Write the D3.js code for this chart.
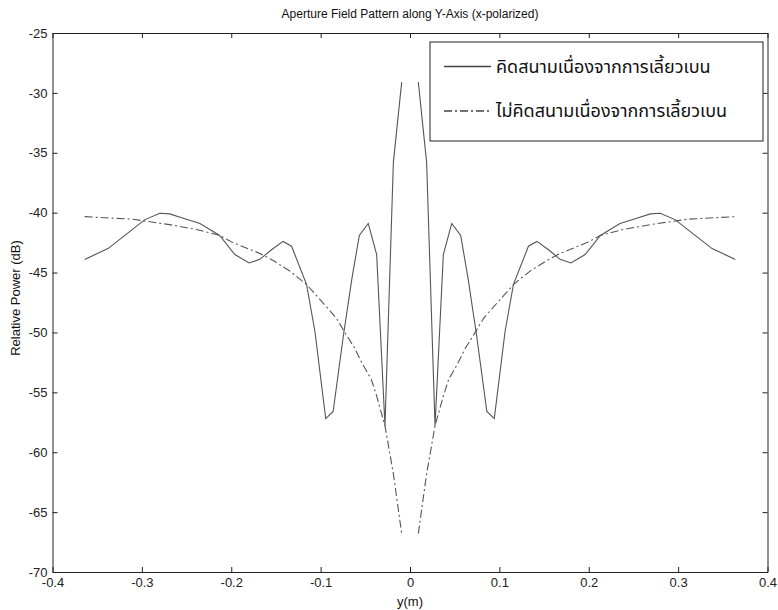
<!DOCTYPE html>
<html>
<head>
<meta charset="utf-8">
<script src="https://cdn.jsdelivr.net/npm/d3@7"></script>
<style>
  html, body { margin: 0; padding: 0; background: #fff; }
  svg { display: block; }
</style>
</head>
<body>
<svg id="chart" width="778" height="610"></svg>
<script>
// ---- data ----
const xTickValues = [-0.4, -0.3, -0.2, -0.1, 0, 0.1, 0.2, 0.3, 0.4];
const xTickLabels = ["-0.4", "-0.3", "-0.2", "-0.1", "0", "0.1", "0.2", "0.3", "0.4"];
const yTickValues = [-70, -65, -60, -55, -50, -45, -40, -35, -30, -25];
const yTickLabels = ["-70", "-65", "-60", "-55", "-50", "-45", "-40", "-35", "-30", "-25"];

// with diffraction (solid)
const xSolid = [-0.364, -0.338, -0.314, -0.297, -0.280, -0.269, -0.252, -0.235, -0.213, -0.196, -0.180, -0.168, -0.155, -0.142, -0.1325, -0.1157, -0.1064, -0.0943, -0.086, -0.0746, -0.065, -0.0567, -0.0467, -0.0373, -0.028, -0.0186, -0.0093, 0,
                0.0093, 0.0186, 0.028, 0.0373, 0.0467, 0.0567, 0.065, 0.0746, 0.086, 0.0943, 0.1064, 0.1157, 0.1325, 0.142, 0.155, 0.168, 0.180, 0.196, 0.213, 0.235, 0.252, 0.269, 0.280, 0.297, 0.314, 0.338, 0.364];
const ySolid = [-43.9, -43.0, -41.6, -40.6, -40.05, -40.1, -40.5, -40.9, -41.9, -43.5, -44.2, -43.9, -43.1, -42.4, -42.8, -46.0, -49.9, -57.2, -56.6, -50.3, -45.5, -41.9, -40.9, -43.5, -57.8, -35.8, -29.1, null,
                -29.1, -35.8, -57.8, -43.5, -40.9, -41.9, -45.5, -50.3, -56.6, -57.2, -49.9, -46.0, -42.8, -42.4, -43.1, -43.9, -44.2, -43.5, -41.9, -40.9, -40.5, -40.1, -40.05, -40.6, -41.6, -43.0, -43.9];

// without diffraction (dash-dot)
const xDash = [-0.364, -0.31, -0.269, -0.239, -0.213, -0.198, -0.168, -0.153, -0.134, -0.1157, -0.0943, -0.0825, -0.0713, -0.062, -0.0527, -0.0434, -0.0373, -0.028, -0.0186, -0.0093, 0,
               0.0093, 0.0186, 0.028, 0.0373, 0.0434, 0.0527, 0.062, 0.0713, 0.0825, 0.0943, 0.1157, 0.134, 0.153, 0.168, 0.198, 0.213, 0.239, 0.269, 0.31, 0.364];
const yDash = [-40.33, -40.55, -41.0, -41.4, -41.9, -42.5, -43.4, -44.0, -44.9, -46.0, -47.8, -48.8, -50.2, -51.3, -52.7, -53.9, -55.3, -57.8, -61.8, -66.8, null,
               -66.8, -61.8, -57.8, -55.3, -53.9, -52.7, -51.3, -50.2, -48.8, -47.8, -46.0, -44.9, -44.0, -43.4, -42.5, -41.9, -41.4, -41.0, -40.55, -40.33];

const seriesNames = ["คิดสนามเนื่องจากการเลี้ยวเบน", "ไม่คิดสนามเนื่องจากการเลี้ยวเบน"];
const titleText = "Aperture Field Pattern along Y-Axis (x-polarized)";
const xLabelText = "y(m)";
const yLabelText = "Relative Power (dB)";

// ---- layout ----
const L = 52.5, R = 767.5, T = 33, B = 572;
const svg = d3.select("#chart");
const x = d3.scaleLinear().domain([-0.4, 0.4]).range([L, R]);
const y = d3.scaleLinear().domain([-70, -25]).range([B, T]);

const font = "'Liberation Sans', Arial, sans-serif";
const axisColor = "#222";

// axes
const xFmt = d => xTickLabels[xTickValues.indexOf(d)];
const yFmt = d => yTickLabels[yTickValues.indexOf(d)];

function styleAxis(g) {
  g.select(".domain").attr("stroke", axisColor).attr("stroke-width", 1);
  g.selectAll(".tick line").attr("stroke", axisColor);
  g.selectAll(".tick text").attr("fill", "#222").style("font-family", font).style("font-size", "13px");
}

svg.append("g").attr("transform", `translate(0,${B})`)
  .call(d3.axisBottom(x).tickValues(xTickValues).tickFormat(xFmt).tickSizeInner(-5).tickSizeOuter(0).tickPadding(6))
  .call(styleAxis);
svg.append("g").attr("transform", `translate(0,${T})`)
  .call(d3.axisTop(x).tickValues(xTickValues).tickFormat("").tickSizeInner(-5).tickSizeOuter(0))
  .call(styleAxis);
svg.append("g").attr("transform", `translate(${L},0)`)
  .call(d3.axisLeft(y).tickValues(yTickValues).tickFormat(yFmt).tickSizeInner(-5).tickSizeOuter(0).tickPadding(5))
  .call(styleAxis);
svg.append("g").attr("transform", `translate(${R},0)`)
  .call(d3.axisRight(y).tickValues(yTickValues).tickFormat("").tickSizeInner(-5).tickSizeOuter(0))
  .call(styleAxis);

// lines
const solidData = xSolid.map((v, i) => [v, ySolid[i]]);
const dashData = xDash.map((v, i) => [v, yDash[i]]);
const line = d3.line().defined(d => d[1] !== null).x(d => x(d[0])).y(d => y(d[1]));

svg.append("path").datum(dashData).attr("d", line)
  .attr("fill", "none").attr("stroke", "#555").attr("stroke-width", 1.1)
  .attr("stroke-dasharray", "8,3,2,3");
svg.append("path").datum(solidData).attr("d", line)
  .attr("fill", "none").attr("stroke", "#555").attr("stroke-width", 1.1);

// title and labels
svg.append("text").attr("x", (L + R) / 2).attr("y", 18).attr("text-anchor", "middle")
  .style("font-family", font).style("font-size", "12px").attr("fill", "#111").text(titleText);
svg.append("text").attr("x", (L + R) / 2).attr("y", 606).attr("text-anchor", "middle")
  .style("font-family", font).style("font-size", "13px").attr("fill", "#111").text(xLabelText);
svg.append("text").attr("transform", `translate(20,298) rotate(-90)`).attr("text-anchor", "middle")
  .style("font-family", font).style("font-size", "13px").attr("fill", "#111").text(yLabelText);

// legend
const lg = svg.append("g");
lg.append("rect").attr("x", 430).attr("y", 42).attr("width", 333).attr("height", 99)
  .attr("fill", "#fff").attr("stroke", axisColor).attr("stroke-width", 1);
const legendRows = [
  { name: seriesNames[0], y: 66.5, dash: null },
  { name: seriesNames[1], y: 111, dash: "8,3,2,3" }
];
legendRows.forEach(r => {
  lg.append("line").attr("x1", 444).attr("x2", 491).attr("y1", r.y).attr("y2", r.y)
    .attr("stroke", "#444").attr("stroke-width", 1.3).attr("stroke-dasharray", r.dash);
  lg.append("text").attr("x", 496).attr("y", r.y).attr("dy", "0.35em")
    .style("font-family", "'Noto Sans Thai', 'Noto Sans', 'DejaVu Sans', sans-serif").style("font-size", "18px")
    .attr("fill", "#111").text(r.name);
});
</script>
</body>
</html>
